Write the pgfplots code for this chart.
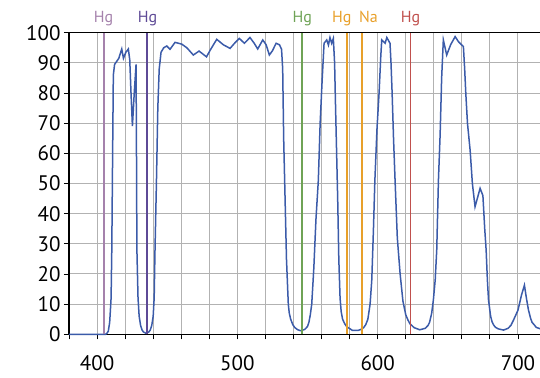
\documentclass[border=0pt]{standalone}
\usepackage{pgfplots}
\pgfplotsset{compat=1.18}
\usepackage{fontspec}
\setmainfont{PT Sans}
\definecolor{curve}{HTML}{3B5BA9}
\definecolor{hgA}{HTML}{A582AC}
\definecolor{hgB}{HTML}{5E4A96}
\definecolor{hgG}{HTML}{6FA356}
\definecolor{hgO}{HTML}{E8A02A}
\definecolor{hgR}{HTML}{C0504D}
\begin{document}
\begin{tikzpicture}
\begin{axis}[
  at={(0,0)}, anchor=south west,
  scale only axis, width=471pt, height=301.6pt,
  xmin=380, xmax=715.7, ymin=0, ymax=100,
  axis x line=box, axis y line=left, axis line style={-, black, line width=1.1pt},
  xtick pos=left, ytick pos=left,
  xtick={400,500,600,700},
  minor xtick={380,420,440,460,480,520,540,560,580,620,640,660,680},
  ytick={0,10,...,100},
  grid=both,
  major grid style={gray!60, line width=1pt},
  minor grid style={gray!60, line width=1pt},
  tick align=outside,
  major tick length=5pt, minor tick length=5pt,
  tick style={black, line width=0.9pt},
  yticklabel style={font=\fontsize{21}{23}\selectfont},
  xticklabel style={font=\fontsize{21}{23}\selectfont, anchor=base, yshift=-31.5pt, inner sep=0pt},
  /pgf/number format/assume math mode=true,
  clip=false,
]
\begin{scope}
\clip (axis cs:380,-1) rectangle (axis cs:715.7,101);
\addplot[curve, line width=1.5pt] coordinates {
(380,0)(406,0)(407,0.3)(408,1)(409,4)(410,12)(410.5,28)(411,55)(411.6,86)(412.5,89.5)(414,90.5)(415.5,91.5)(416.5,93)(417.6,94.6)(418.8,91.5)(420.5,93.5)(422.3,94.6)(423.3,91)(424.2,80)(425.2,69)(426.5,80)(427.8,89.5)(428.1,60)(428.4,28)(429.2,12)(430,6)(431,3)(432,1.5)(433,0.8)(435,0.3)(437,0.8)(438,1.5)(439,3)(440,6)(440.7,12)(441.3,28)(442.3,50)(443.3,75)(444.3,88)(445.6,93.5)(447.5,95)(449.7,95.6)(452,94.5)(455.6,96.8)(460.4,96.2)(464,95)(468.6,92.6)(472.7,93.9)(478,92)(481,94.5)(485.3,97.8)(490,96)(494.8,94.8)(498,96.5)(501.4,98.1)(505,96.5)(509,98.4)(512,96.5)(514.5,94.6)(518.1,97.6)(520.5,96)(522.8,92.6)(525,94)(527.6,96.5)(530,96)(531.5,94.5)(532.3,88)(533,65)(534,45)(535,25)(536.3,10)(537,7)(538,5)(539.5,3.2)(541,2.2)(543,1.5)(545,1.2)(548,1.6)(550,2.6)(551,4)(552,6.5)(553,10)(554.5,22)(556,38)(557.7,51)(559,70)(560.5,85)(561.8,96.5)(563.7,97.6)(564.9,95.9)(566,98.4)(567.2,96.5)(568.4,98.1)(569.3,90)(570,75)(570.5,65)(571.5,45)(572.3,25)(573.2,12)(574,7.5)(575,5)(576.5,3.5)(578,2.5)(582,1.3)(586,1.3)(588,1.6)(590,2.2)(591.5,3.2)(593,5)(594.6,10)(595.8,18)(597,35)(598,51)(599.5,68)(601,80)(602.2,92)(602.9,97.6)(605.3,96.5)(606.5,98.4)(608.8,96.5)(609.5,90)(610.3,80)(611.3,65)(612.4,51)(614,32)(616,20)(618,11)(620,6.5)(621.5,4.8)(623,3.5)(626,2.2)(630,1.5)(634,2)(636,3)(637,4)(638.5,7)(639.7,11.4)(641,18)(642.1,28)(643.3,51)(644.5,66)(645.6,85)(646.8,97.6)(649.2,92.6)(652,96)(655.2,98.7)(657.6,97)(661.1,95.4)(662,88)(662.8,80)(664,70)(665.9,61)(667.5,50)(669.4,42.3)(671,45)(673,48.4)(675,46)(676.3,35)(677.3,28)(678.2,18)(679,11.4)(680.5,6)(681.5,4.2)(682.6,3.1)(684,2.3)(686,1.8)(689.7,1.4)(693,2)(695,3)(696.8,4.7)(700,8)(702.5,13)(704.6,16.3)(706,12)(707.5,8)(709,5.3)(710,4)(712,2.9)(713,2.3)(716,1.8)
};
\end{scope}
\addplot[hgA, line width=1.7pt] coordinates {(404.7,0)(404.7,100)};
\addplot[hgB, line width=1.7pt] coordinates {(435.8,0)(435.8,100)};
\addplot[hgG, line width=1.7pt] coordinates {(546.1,0)(546.1,100)};
\addplot[hgO, line width=1.7pt] coordinates {(578.0,0)(578.0,100)};
\addplot[hgO, line width=1.7pt] coordinates {(589.0,0)(589.0,100)};
\addplot[hgR, line width=1.7pt] coordinates {(623.4,0)(623.4,100)};
\begin{scope}[every node/.style={anchor=base, inner sep=0pt, font=\fontsize{16}{18}\selectfont}]
\node[text=hgA] at (axis cs:404.7,103.45) {Hg};
\node[text=hgB] at (axis cs:436.0,103.45) {Hg};
\node[text=hgG] at (axis cs:546.3,103.45) {Hg};
\node[text=hgO] at (axis cs:574.4,103.45) {Hg};
\node[text=hgO] at (axis cs:593.4,103.45) {Na};
\node[text=hgR] at (axis cs:623.4,103.45) {Hg};
\end{scope}
\end{axis}
\pgfresetboundingbox
\path[use as bounding box] (-69pt,-42.7pt) rectangle (471pt,334.3pt);
\end{tikzpicture}
\end{document}
